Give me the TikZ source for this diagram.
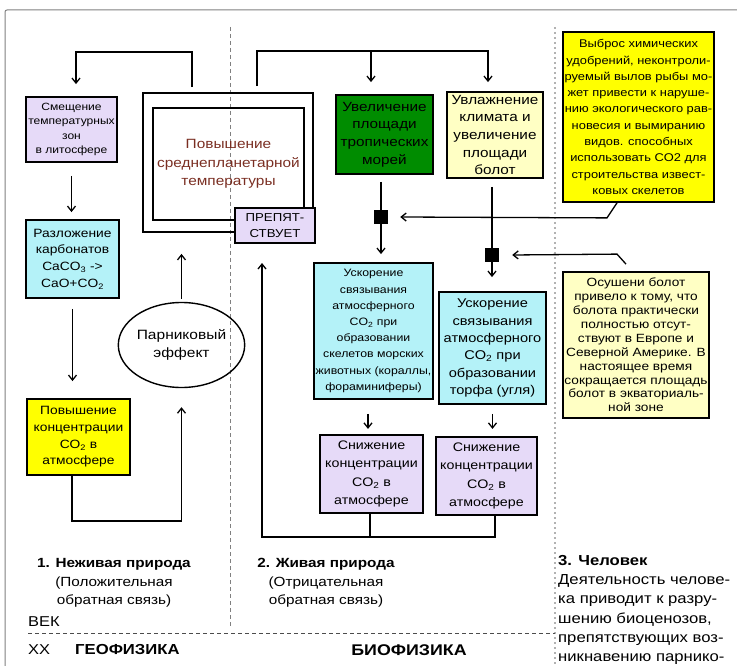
\documentclass[tikz,border=0pt]{standalone}
\usepackage{fontspec}
\setmainfont[FakeStretch=1.15]{Liberation Sans}
\usetikzlibrary{arrows.meta,shapes.geometric}
\definecolor{sirenev}{HTML}{E6DAF8}
\definecolor{goluboj}{HTML}{B4F2F8}
\definecolor{zheltyj}{HTML}{FFFF00}
\definecolor{blednyj}{HTML}{FFFFC4}
\definecolor{zelenyj}{HTML}{008C00}
\definecolor{korichn}{HTML}{7A2E22}
\newcommand\razmer[2]{\fontsize{#1}{#2}\selectfont}
\newcommand\COd{CO\textsubscript{2}}

\begin{document}
\begin{tikzpicture}[x=1pt,y=-1pt,
	blok/.style={draw,rectangle,line width=1.8pt,align=center,inner sep=0pt},
	arr/.style={line width=1.3pt,->,>={Straight Barb[length=5pt,width=8pt]}},
	linija/.style={line width=1.3pt},
	uzel/.style={fill=black,rectangle,minimum size=14pt,inner sep=0pt},
	razdel/.style={gray,line width=0.8pt,dash pattern=on 4pt off 3pt}]
	\useasboundingbox (0,0) rectangle (737,666);
	% ramka i razdeliteli
	\draw[gray,line width=1pt,rounded corners=2pt] (5,666) -- (5,10) -- (737,10);
	\draw[razdel] (230,27) -- (230,627);
	\draw[gray!60,line width=1.6pt,dash pattern=on 2pt off 3pt] (555,27) -- (555,666);
	\draw[black!70,line width=1pt,dash pattern=on 4pt off 3pt] (28,633) -- (555,633);
	% nezhivaja priroda
	\node[blok,fill=sirenev,minimum width=91pt,minimum height=65pt,font={\razmer{10.5}{14.5}}] (smesch) at (71.5,129.5) {Смещение\\температурных\\зон\\в литосфере};
	\node[blok,fill=goluboj,minimum width=93pt,minimum height=78pt,font={\razmer{12}{16.7}}] (razl) at (72.5,259) {Разложение\\карбонатов\\CaCO\textsubscript{3} ->\\CaO+\COd};
	\node[blok,fill=zheltyj,minimum width=103pt,minimum height=76pt,font={\razmer{12}{16.7}}] (konc) at (78.5,437) {Повышение\\концентрации\\\COd{} в\\атмосфере};
	\node[draw,ellipse,line width=1.4pt,minimum width=119pt,minimum height=85pt,inner sep=0pt,align=center,font={\razmer{13.5}{18.3}}] (parnik) at (181.5,345) {Парниковый\\эффект};
	\node[blok,minimum width=170pt,minimum height=139pt] (povysh) at (228,162.5) {};
	\node[blok,line width=1.5pt,minimum width=151pt,minimum height=112pt,text=korichn,font={\razmer{13.4}{18.3}}] (povyshtxt) at (228.5,164) {Повышение\\среднепланетарной\\температуры};
	\node[blok,fill=sirenev,minimum width=80pt,minimum height=35pt,font={\razmer{11.5}{16.7}}] (prep) at (275,225.5) {ПРЕПЯТ-\\СТВУЕТ};
	% zhivaja priroda
	\node[blok,fill=zelenyj,minimum width=97pt,minimum height=79pt,font={\razmer{13.3}{17.6}}] (tropik) at (384.5,134.5) {Увеличение\\площади\\тропических\\морей};
	\node[blok,fill=blednyj,minimum width=96pt,minimum height=86pt,font={\razmer{13.3}{17.6}}] (bolota) at (495,135) {Увлажнение\\климата и\\увеличение\\площади\\болот};
	\node[blok,fill=goluboj,minimum width=119pt,minimum height=136pt,font={\razmer{10.7}{16.2}}] (skelet) at (373.5,331) {Ускорение\\связывания\\атмосферного\\\COd{} при\\образовании\\скелетов морских\\животных (кораллы,\\фораминиферы)};
	\node[blok,fill=goluboj,minimum width=107pt,minimum height=112pt,font={\razmer{12.7}{17.3}}] (torf) at (492.5,348) {Ускорение\\связывания\\атмосферного\\\COd{} при\\образовании\\торфа (угля)};
	\node[blok,fill=sirenev,minimum width=103pt,minimum height=78pt,font={\razmer{12.4}{18.3}}] (snizh1) at (371.5,474) {Снижение\\концентрации\\\COd{} в\\атмосфере};
	\node[blok,fill=sirenev,minimum width=101pt,minimum height=78pt,font={\razmer{12.4}{18.3}}] (snizh2) at (486.5,476) {Снижение\\концентрации\\\COd{} в\\атмосфере};
	\node[uzel] (jn1) at (381,217) {};
	\node[uzel] (jn2) at (492,255) {};
	\coordinate (vozvrat) at (262,263);
	% chelovek
	\node[blok,fill=zheltyj,minimum width=151pt,minimum height=170pt,font={\razmer{11.2}{16.3}}] (vybros) at (638.5,117) {Выброс химических\\удобрений, неконтроли-\\руемый вылов рыбы мо-\\жет привести к наруше-\\нию экологического рав-\\новесия и вымиранию\\видов. способных\\использовать CO2 для\\строительства извест-\\ковых скелетов};
	\node[blok,fill=blednyj,minimum width=146pt,minimum height=146pt,font={\razmer{11.9}{13.9}}] (osush) at (636,345) {Осушени болот\\привело к тому, что\\болота практически\\полностью отсут-\\ствуют в Европе и\\Северной Америке. В\\настоящее время\\сокращается площадь\\болот в экваториаль-\\ной зоне};
	% podpisi
	\node[align=center,font={\razmer{13.3}{18.3}}] (nezhiv) at (114,583) {\textbf{1. Неживая природа}\\(Положительная\\обратная связь)};
	\node[align=center,font={\razmer{13.3}{18.3}}] (zhiv) at (326,583) {\textbf{2. Живая природа}\\(Отрицательная\\обратная связь)};
	\node[align=left,anchor=north west,inner sep=0pt,font={\razmer{14.5}{19.3}}] (chelovek) at (558,555) {\textbf{3. Человек}\\Деятельность челове-\\ка приводит к разру-\\шению биоценозов,\\препятствующих воз-\\никнавению парнико-\\вой катастрофы};
	\node[anchor=west,inner sep=0pt,font={\razmer{14.3}{17}}] (vek) at (28,622) {ВЕК};
	\node[anchor=west,inner sep=0pt,font={\razmer{14.3}{17}}] (xx) at (28,650) {XX};
	\node[anchor=west,inner sep=0pt,font={\razmer{14.5}{17}\bfseries}] (geo) at (75,650) {ГЕОФИЗИКА};
	\node[inner sep=0pt,font={\razmer{15.5}{18}\bfseries}] (bio) at (409,650) {БИОФИЗИКА};
	% strelki sleva
	\draw[arr] ([xshift=-36pt,yshift=5pt]povysh.north) -- ++(0,-35) -| ([xshift=4.5pt,yshift=12pt]smesch.north);
	\draw[arr] ([yshift=-13pt]smesch.south) -- ([yshift=7pt]smesch.south |- razl.north);
	\draw[arr] ([yshift=-10pt]razl.south) -- ([yshift=17pt]razl.south |- konc.north);
	\draw[arr] ([xshift=-6.5pt]konc.south) -- ++(0,45) -| ([yshift=-19pt]parnik.south);
	\draw[arr] ([yshift=3pt]parnik.north) -- ([yshift=-21pt]parnik.north |- povysh.south);
	% strelki v centre
	\draw[arr] ([xshift=29pt,yshift=6pt]povysh.north) |- ([xshift=-7pt,yshift=40pt]bolota.north) -- ([xshift=-7pt,yshift=9pt]bolota.north);
	\draw[arr] ([xshift=-13.5pt,yshift=43pt]tropik.north) -- ([xshift=-13.5pt,yshift=12pt]tropik.north);
	\draw[arr] ([yshift=-7pt]tropik.south -| jn1) -- ([yshift=8pt]skelet.north -| jn1);
	\draw[arr] ([yshift=-8pt]bolota.south -| jn2) -- ([yshift=14pt]torf.north -| jn2);
	\draw[arr] ([xshift=-21.5pt]vybros.south) -- ([xshift=-31.5pt,yshift=-15pt]vybros.south) -- ([xshift=12pt]jn1.east);
	\draw[arr] ([xshift=-10pt,yshift=7pt]osush.north) -- ([xshift=-19pt,yshift=17pt]osush.north) -- ([xshift=13pt]jn2.east);
	\draw[arr] ([xshift=-5.5pt,yshift=-14pt]skelet.south) -- ([xshift=-5.5pt,yshift=-29pt]skelet.south);
	\draw[arr] ([yshift=-9pt]torf.south) -- ([yshift=-24pt]torf.south);
	\draw[linija] ([xshift=-1.5pt]snizh1.south) -- ++(0,23);
	\draw[arr] ([xshift=8.5pt]snizh2.south) -- ++(0,21) -| (vozvrat);
\end{tikzpicture}
\end{document}
